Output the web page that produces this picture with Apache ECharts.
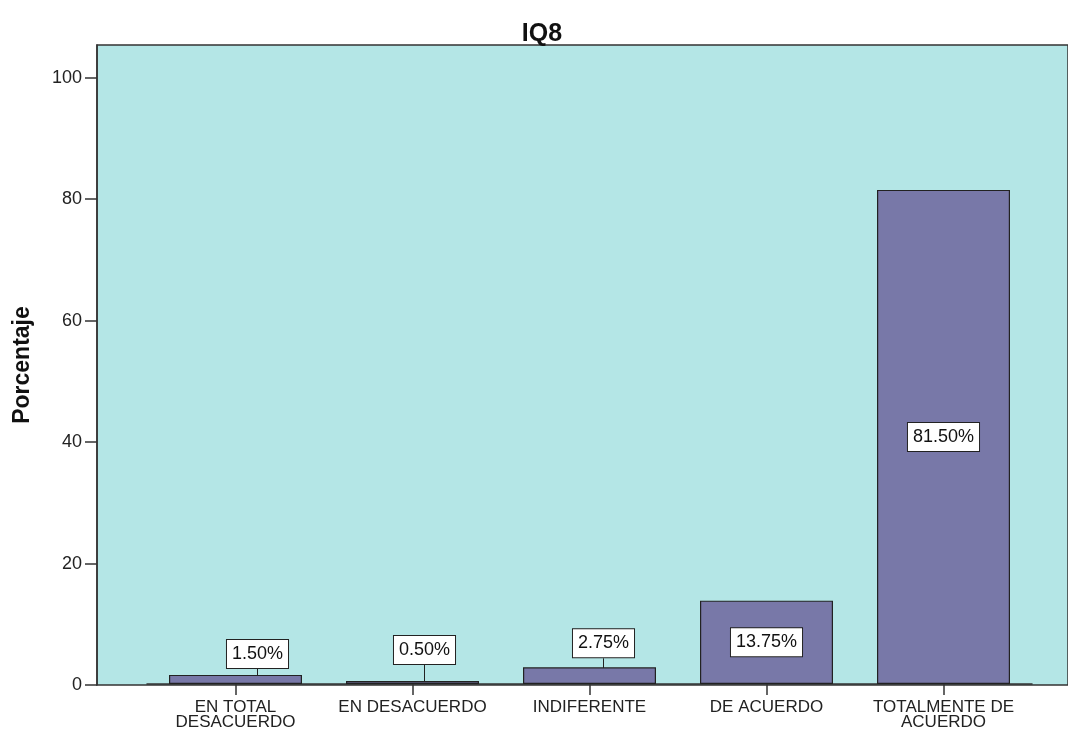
<!DOCTYPE html>
<html>
<head>
<meta charset="utf-8">
<script src="https://cdn.jsdelivr.net/npm/echarts@6/dist/echarts.min.js"></script>
<style>
  html, body { margin: 0; padding: 0; background: #ffffff; }
  #chart { width: 1068px; height: 731px; }
</style>
</head>
<body>
<div id="chart"></div>
<script>
// Survey item IQ8: share of answers per response option
const categories = ['EN TOTAL\nDESACUERDO', 'EN DESACUERDO', 'INDIFERENTE', 'DE ACUERDO', 'TOTALMENTE DE\nACUERDO'];
const percentages = [1.5, 0.5, 2.75, 13.75, 81.5];
const yTicks = [0, 20, 40, 60, 80, 100];

// Labels of short bars are lifted above the bar and tied to it with a leader line
const SHORT_BAR = 5;
const labelShift = { 0: [22, -7], 1: [12, -17], 2: [14, -10] };

const FONT = '"Liberation Sans", Arial, sans-serif';
const INK = '#222222';
const Y_MAX = 105.4;

const chart = echarts.init(document.getElementById('chart'), null, { renderer: 'canvas' });

const barData = percentages.map(function (v) {
  const shortBar = v < SHORT_BAR;
  return {
    value: v,
    label: { position: shortBar ? 'top' : 'inside', distance: 0 },
    labelLine: { show: shortBar }
  };
});

chart.setOption({
  animation: false,
  title: {
    text: 'IQ8',
    left: 537,
    top: 17,
    textAlign: 'center',
    textStyle: { fontFamily: FONT, fontWeight: 'bold', fontSize: 25, color: '#111' }
  },
  grid: [
    { // plot frame and value axis
      left: 97, right: -6, top: 45, bottom: 46,
      show: true, backgroundColor: '#b4e6e6', borderColor: '#333', borderWidth: 1.5
    },
    { // category band holding the bars
      left: 147, right: 36, top: 45, bottom: 46
    }
  ],
  xAxis: [
    {
      gridIndex: 0, type: 'value', min: 0, max: 1,
      axisLine: { show: false }, axisTick: { show: false },
      axisLabel: { show: false }, splitLine: { show: false }
    },
    {
      gridIndex: 1, type: 'category', data: categories,
      axisLine: { show: true, lineStyle: { color: '#333', width: 1.5 } },
      axisTick: { show: true, alignWithLabel: true, length: 11, lineStyle: { color: '#333', width: 1.5 } },
      axisLabel: {
        interval: 0, margin: 16, fontFamily: FONT, fontSize: 17, lineHeight: 15, color: INK
      },
      splitLine: { show: false }
    }
  ],
  yAxis: [
    {
      gridIndex: 0, type: 'value', min: 0, max: Y_MAX,
      name: 'Porcentaje', nameLocation: 'middle', nameRotate: 90, nameGap: 63,
      nameTextStyle: { fontFamily: FONT, fontWeight: 'bold', fontSize: 23, color: '#111' },
      axisLine: { show: true, lineStyle: { color: '#333', width: 1.5 } },
      axisTick: { show: true, length: 12, customValues: yTicks, lineStyle: { color: '#333', width: 1.5 } },
      axisLabel: { margin: 15, customValues: yTicks, fontFamily: FONT, fontSize: 18, color: INK },
      splitLine: { show: false }
    },
    {
      gridIndex: 1, type: 'value', min: 0, max: Y_MAX, show: false
    }
  ],
  series: [{
    type: 'bar',
    xAxisIndex: 1,
    yAxisIndex: 1,
    data: barData,
    barWidth: 133,
    itemStyle: { color: '#7878a8', borderColor: INK, borderWidth: 1.2 },
    label: {
      show: true,
      formatter: function (p) { return p.value.toFixed(2) + '%'; },
      fontFamily: FONT, fontSize: 18, lineHeight: 18, color: '#111',
      backgroundColor: '#ffffff', borderColor: INK, borderWidth: 1,
      padding: [5, 5, 5, 5]
    },
    labelLine: { lineStyle: { color: INK, width: 1 } },
    labelLayout: function (params) {
      const s = labelShift[params.dataIndex];
      return s ? { dx: s[0], dy: s[1] } : {};
    }
  }]
});
</script>
</body>
</html>
